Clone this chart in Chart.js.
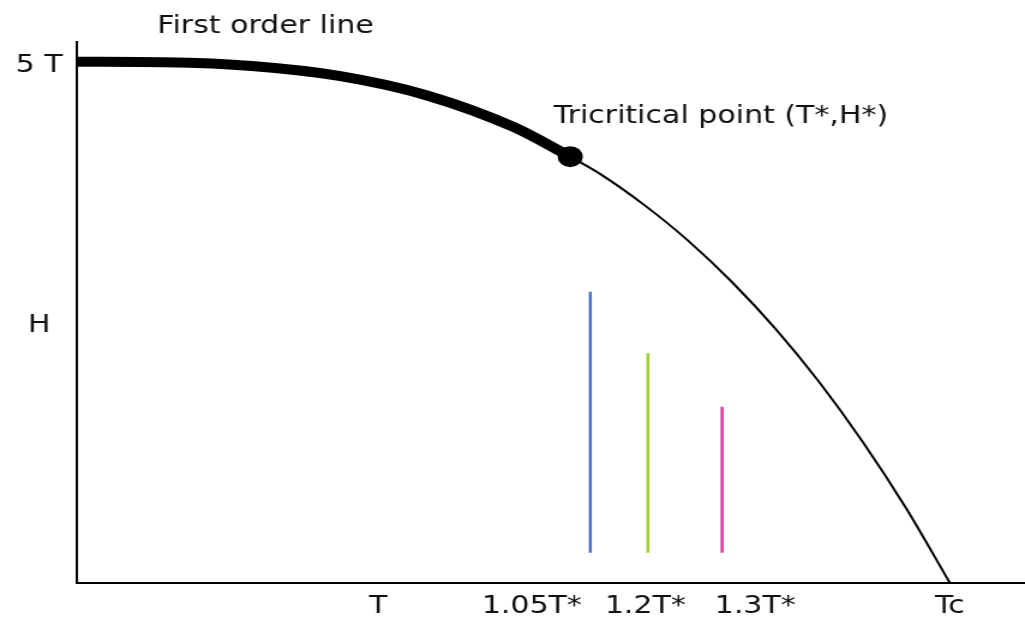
<!DOCTYPE html>
<html><head><meta charset="utf-8">
<script src="https://cdn.jsdelivr.net/npm/chart.js@4/dist/chart.umd.min.js"></script>
<style>
html,body{margin:0;padding:0;background:#fff;overflow:hidden;}
#wrap{width:854px;height:618px;transform:scaleX(1.2002);transform-origin:0 0;}
canvas{display:block;}
</style></head><body>
<div id="wrap"><canvas id="c" width="854" height="618"></canvas></div>
<script>
// Phase diagram values (T in units of Tc, H in units of 5 T)
const firstOrderT = [0, 0.1, 0.2, 0.3, 0.4, 0.5, 0.565];
const firstOrderH = [1.0, 0.999, 0.992, 0.973, 0.936, 0.875, 0.818];
const secondOrderT = [0.565, 0.6, 0.65, 0.7, 0.75, 0.8, 0.85, 0.9, 0.95, 1.0];
const secondOrderH = [0.818, 0.784, 0.725, 0.657, 0.578, 0.488, 0.386, 0.271, 0.143, 0.0];
const tricriticalT = [0.565];
const tricriticalH = [0.818];
const scanT = [0.588, 0.654, 0.739];
const scanTop = [0.559, 0.441, 0.338];
const scanBottom = [0.058, 0.058, 0.058];
const xTickValues = [0.345, 0.521, 0.651, 0.777, 1.0];
const xTickLabels = ['T', '1.05T*', '1.2T*', '1.3T*', 'Tc'];
const yTickValues = [0.495, 0.992];
const yTickLabels = ['H', '5 T'];
const noteTexts = ['First order line', 'Tricritical point (T*,H*)'];

const scanColors = ['#4470c8', '#9ad22e', '#d83aa0'];
const FONT = '"DejaVu Sans", sans-serif';

const pts = (xs, ys) => xs.map((x, i) => ({x: x, y: ys[i]}));

const datasets = [
  {data: pts(firstOrderT, firstOrderH), borderColor: '#000', borderWidth: 10, pointRadius: 0, cubicInterpolationMode: 'monotone', borderCapStyle: 'butt'},
  {data: pts(secondOrderT, secondOrderH), borderColor: '#000', borderWidth: 2, pointRadius: 0, cubicInterpolationMode: 'monotone'}
];
scanT.forEach((t, i) => {
  datasets.push({data: [{x: t, y: scanBottom[i]}, {x: t, y: scanTop[i]}], borderColor: scanColors[i], borderWidth: 2.5, pointRadius: 0});
});
datasets.push({data: pts(tricriticalT, tricriticalH), showLine: false, pointRadius: 10.5, pointBackgroundColor: '#000', pointBorderWidth: 0});

const notePos = [[0.092, 1.056], [0.546, 0.883]];
const notesPlugin = {
  id: 'notes',
  afterDraw(chart) {
    const ctx = chart.ctx, xs = chart.scales.x, ys = chart.scales.y;
    ctx.save();
    ctx.font = '25px ' + FONT;
    ctx.fillStyle = '#111';
    ctx.textAlign = 'left';
    ctx.textBaseline = 'alphabetic';
    noteTexts.forEach((txt, i) => {
      ctx.fillText(txt, xs.getPixelForValue(notePos[i][0]), ys.getPixelForValue(notePos[i][1]));
    });
    ctx.restore();
  }
};

new Chart(document.getElementById('c'), {
  type: 'line',
  data: {datasets: datasets},
  plugins: [notesPlugin],
  options: {
    responsive: false,
    animation: false,
    devicePixelRatio: 1,
    layout: {autoPadding: false, padding: {top: 42, right: 0, left: 0, bottom: 0}},
    plugins: {legend: {display: false}, tooltip: {enabled: false}},
    elements: {line: {tension: 0}},
    scales: {
      x: {
        type: 'linear', min: 0, max: 1.086,
        grid: {display: false},
        border: {display: true, color: '#000', width: 2},
        ticks: {
          font: {family: FONT, size: 25}, color: '#111', padding: 0,
          maxRotation: 0, autoSkip: false,
          callback: (v, i) => xTickLabels[i]
        },
        afterBuildTicks: s => { s.ticks = xTickValues.map(v => ({value: v})); },
        afterFit: s => { s.height = 35; s.paddingLeft = 0; s.paddingRight = 0; }
      },
      y: {
        type: 'linear', min: 0, max: 1.038,
        grid: {display: false},
        border: {display: true, color: '#000', width: 2},
        ticks: {
          font: {family: FONT, size: 25}, color: '#111', padding: 4,
          crossAlign: 'center', autoSkip: false,
          callback: (v, i) => yTickLabels[i]
        },
        afterBuildTicks: s => { s.ticks = yTickValues.map(v => ({value: v})); },
        afterFit: s => { s.width = 64.2; s.paddingTop = 0; s.paddingBottom = 0; }
      }
    }
  }
});
</script>
</body></html>
